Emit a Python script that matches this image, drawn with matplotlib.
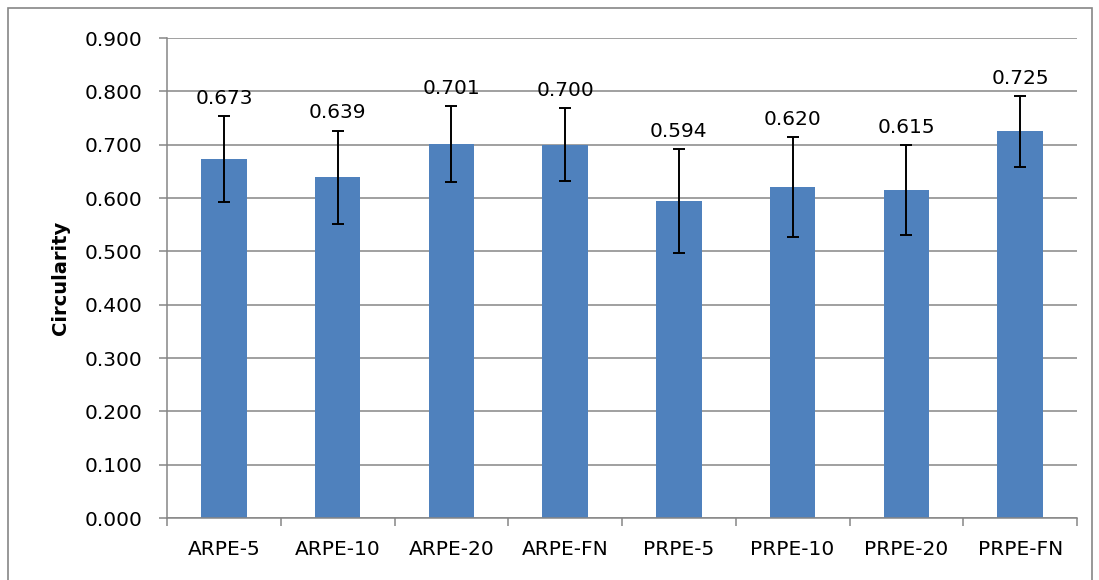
import matplotlib.pyplot as plt
from matplotlib.patches import Rectangle
import numpy as np

categories = ["ARPE-5", "ARPE-10", "ARPE-20", "ARPE-FN",
              "PRPE-5", "PRPE-10", "PRPE-20", "PRPE-FN"]
circularity = [0.673, 0.639, 0.701, 0.700, 0.594, 0.620, 0.615, 0.725]
errors = [0.080, 0.087, 0.071, 0.068, 0.098, 0.094, 0.084, 0.066]
y_ticks = [0.0, 0.1, 0.2, 0.3, 0.4, 0.5, 0.6, 0.7, 0.8, 0.9]

plt.rcParams["font.family"] = ["DejaVu Sans"]

W, H = 1099, 580
fig = plt.figure(figsize=(W / 100, H / 100), dpi=100)

# chart area border
fig.patches.append(Rectangle((8 / W, -0.05), 1084 / W, 1.05 - 8 / H,
                             transform=fig.transFigure, fill=False,
                             edgecolor="#868686", linewidth=1.2))

ax = fig.add_axes([167 / W, (H - 518) / H, (1077 - 167) / W, 480 / H])

x = np.arange(len(categories))
ax.bar(x, circularity, width=0.4, color="#4F81BD", zorder=2)
ax.errorbar(x, circularity, yerr=errors, fmt="none", ecolor="black",
            elinewidth=1.4, capsize=4.5, capthick=1.4, zorder=3)

for xi, v, e in zip(x, circularity, errors):
    ax.annotate(f"{v:.3f}", (xi, v + e), xytext=(0, 6), textcoords="offset points",
                ha="center", va="bottom", fontsize=14.5)

ax.set_xlim(-0.5, len(categories) - 0.5)
ax.set_ylim(0, 0.9)
ax.set_yticks(y_ticks)
ax.set_yticklabels([f"{t:.3f}" for t in y_ticks], fontsize=14.5)
ax.yaxis.grid(True, color="#868686", linewidth=1.1, zorder=0)
ax.set_axisbelow(True)

ax.set_xticks(x)
ax.set_xticklabels(categories, fontsize=14.5)
ax.set_xticks(np.arange(len(categories) + 1) - 0.5, minor=True)
ax.tick_params(axis="x", which="major", length=0, pad=16)
ax.tick_params(axis="x", which="minor", length=6, color="#868686", width=1.1)
ax.tick_params(axis="y", length=6, color="#868686", width=1.1, pad=12)

for side in ["top", "right"]:
    ax.spines[side].set_visible(False)
for side in ["left", "bottom"]:
    ax.spines[side].set_color("#868686")
    ax.spines[side].set_linewidth(1.1)

ax.set_ylabel("Circularity", fontsize=14, fontweight="bold", labelpad=10)

fig.savefig("out.png", dpi=100)
